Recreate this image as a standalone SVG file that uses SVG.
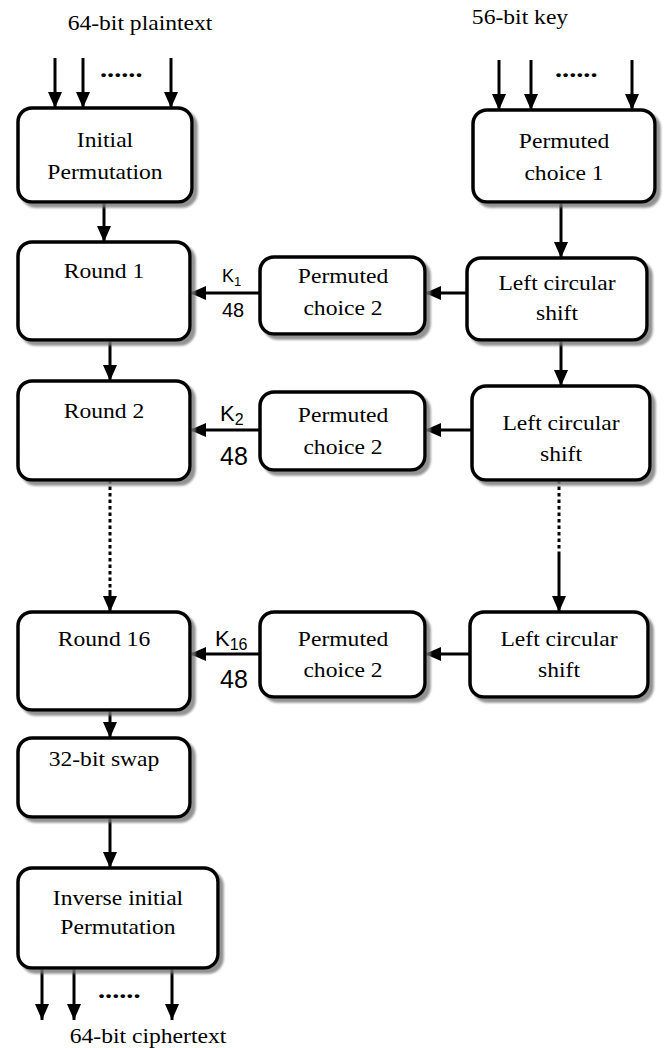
<svg xmlns="http://www.w3.org/2000/svg" width="665" height="1048" viewBox="0 0 665 1048">
<style>
.box{fill:#fff;stroke:#000;stroke-width:3.5;filter:url(#sh)}
.t{font-family:"Liberation Serif","Times New Roman",serif;font-size:20px;text-anchor:middle;fill:#000}
.dots{font-family:"Liberation Serif","Times New Roman",serif;font-size:24px;font-weight:bold;fill:#000}
.k{font-family:"Liberation Sans",Arial,sans-serif;fill:#000}
.c{stroke:#000;stroke-width:3;fill:none;marker-end:url(#ah)}
.cn{stroke:#000;stroke-width:3;fill:none}
.d{stroke:#000;stroke-width:3;fill:none;stroke-dasharray:3.5 3}
</style>
<defs>
<filter id="sh" x="-10%" y="-10%" width="130%" height="130%">
<feDropShadow dx="4" dy="4" stdDeviation="1" flood-color="#777" flood-opacity="0.8"/>
</filter>
<marker id="ah" markerUnits="userSpaceOnUse" viewBox="0 0 16 14" refX="16" refY="7" markerWidth="16" markerHeight="14" orient="auto">
<path d="M0,0 L16,7 L0,14 z" fill="#000"/>
</marker>
</defs>
<rect width="665" height="1048" fill="#fff"/>

<g id="labels">
<text class="t" transform="translate(140,30) scale(1.18,1)">64-bit plaintext</text>
<text class="t" transform="translate(520,24) scale(1.18,1)">56-bit key</text>
<text class="t" transform="translate(148,1043) scale(1.18,1)">64-bit ciphertext</text>
<text class="dots" transform="translate(100,77) scale(1.18,1)">......</text>
<text class="dots" transform="translate(555,77) scale(1.18,1)">......</text>
<text class="dots" transform="translate(98,998) scale(1.18,1)">......</text>
</g>

<g id="connectors">
<line class="c" x1="55" y1="58" x2="55" y2="108"/>
<line class="c" x1="83" y1="58" x2="83" y2="108"/>
<line class="c" x1="171" y1="58" x2="171" y2="108"/>
<line class="c" x1="499" y1="60" x2="499" y2="110"/>
<line class="c" x1="531" y1="60" x2="531" y2="110"/>
<line class="c" x1="632" y1="60" x2="632" y2="110"/>
<line class="c" x1="104" y1="202" x2="104" y2="242"/>
<line class="c" x1="561" y1="202" x2="561" y2="258"/>
<line class="c" x1="467" y1="293" x2="425" y2="293"/>
<line class="c" x1="260" y1="293" x2="190" y2="293"/>
<line class="c" x1="110" y1="340" x2="110" y2="381"/>
<line class="c" x1="561" y1="340" x2="561" y2="386"/>
<line class="c" x1="472" y1="430" x2="425" y2="430"/>
<line class="c" x1="260" y1="430" x2="190" y2="430"/>
<line class="d" x1="110" y1="480" x2="110" y2="590"/>
<line class="c" x1="110" y1="590" x2="110" y2="612"/>
<line class="d" x1="559" y1="480" x2="559" y2="555"/>
<line class="c" x1="559" y1="555" x2="559" y2="612"/>
<line class="c" x1="470" y1="654" x2="425" y2="654"/>
<line class="c" x1="260" y1="654" x2="190" y2="654"/>
<line class="c" x1="110" y1="710" x2="110" y2="738"/>
<line class="c" x1="110" y1="817" x2="110" y2="868"/>
<line class="c" x1="42" y1="968" x2="42" y2="1020"/>
<line class="c" x1="74" y1="968" x2="74" y2="1020"/>
<line class="c" x1="172" y1="968" x2="172" y2="1020"/>
</g>

<g id="k-labels">
<text class="k" x="222" y="282" font-size="18">K<tspan font-size="13" dy="4">1</tspan></text>
<text class="k" x="222" y="317" font-size="20">48</text>
<text class="k" x="220" y="421" font-size="22">K<tspan font-size="16" dy="4">2</tspan></text>
<text class="k" x="220" y="465" font-size="25">48</text>
<text class="k" x="215" y="646" font-size="22">K<tspan font-size="16" dy="4">16</tspan></text>
<text class="k" x="220" y="688" font-size="25">48</text>
</g>

<g id="initial-permutation">
<rect class="box" x="18" y="108" width="174" height="94" rx="14"/>
<text class="t" transform="translate(105,147) scale(1.18,1)">Initial</text>
<text class="t" transform="translate(105,179) scale(1.18,1)">Permutation</text>
</g>
<g id="permuted-choice-1">
<rect class="box" x="473" y="110" width="182" height="92" rx="14"/>
<text class="t" transform="translate(564,148) scale(1.18,1)">Permuted</text>
<text class="t" transform="translate(564,180) scale(1.18,1)">choice 1</text>
</g>

<g id="round-1">
<rect class="box" x="18" y="242" width="172" height="98" rx="14"/>
<text class="t" transform="translate(104,278) scale(1.18,1)">Round 1</text>
</g>
<g id="pc2-1">
<rect class="box" x="260" y="257" width="165" height="77" rx="14"/>
<text class="t" transform="translate(343,283) scale(1.18,1)">Permuted</text>
<text class="t" transform="translate(343,315) scale(1.18,1)">choice 2</text>
</g>
<g id="lcs-1">
<rect class="box" x="467" y="258" width="180" height="82" rx="14"/>
<text class="t" transform="translate(557,290) scale(1.18,1)">Left circular</text>
<text class="t" transform="translate(557,320) scale(1.18,1)">shift</text>
</g>

<g id="round-2">
<rect class="box" x="18" y="381" width="172" height="99" rx="14"/>
<text class="t" transform="translate(104,418) scale(1.18,1)">Round 2</text>
</g>
<g id="pc2-2">
<rect class="box" x="260" y="392" width="165" height="78" rx="14"/>
<text class="t" transform="translate(343,422) scale(1.18,1)">Permuted</text>
<text class="t" transform="translate(343,454) scale(1.18,1)">choice 2</text>
</g>
<g id="lcs-2">
<rect class="box" x="472" y="386" width="178" height="94" rx="14"/>
<text class="t" transform="translate(561,430) scale(1.18,1)">Left circular</text>
<text class="t" transform="translate(561,461) scale(1.18,1)">shift</text>
</g>

<g id="round-16">
<rect class="box" x="18" y="612" width="172" height="98" rx="14"/>
<text class="t" transform="translate(104,646) scale(1.18,1)">Round 16</text>
</g>
<g id="pc2-16">
<rect class="box" x="260" y="612" width="165" height="85" rx="14"/>
<text class="t" transform="translate(343,646) scale(1.18,1)">Permuted</text>
<text class="t" transform="translate(343,677) scale(1.18,1)">choice 2</text>
</g>
<g id="lcs-16">
<rect class="box" x="470" y="612" width="178" height="85" rx="14"/>
<text class="t" transform="translate(559,646) scale(1.18,1)">Left circular</text>
<text class="t" transform="translate(559,677) scale(1.18,1)">shift</text>
</g>

<g id="swap">
<rect class="box" x="18" y="738" width="172" height="79" rx="14"/>
<text class="t" transform="translate(104,766) scale(1.18,1)">32-bit swap</text>
</g>
<g id="inverse-ip">
<rect class="box" x="18" y="868" width="200" height="100" rx="14"/>
<text class="t" transform="translate(118,905) scale(1.18,1)">Inverse initial</text>
<text class="t" transform="translate(118,934) scale(1.18,1)">Permutation</text>
</g>
</svg>
